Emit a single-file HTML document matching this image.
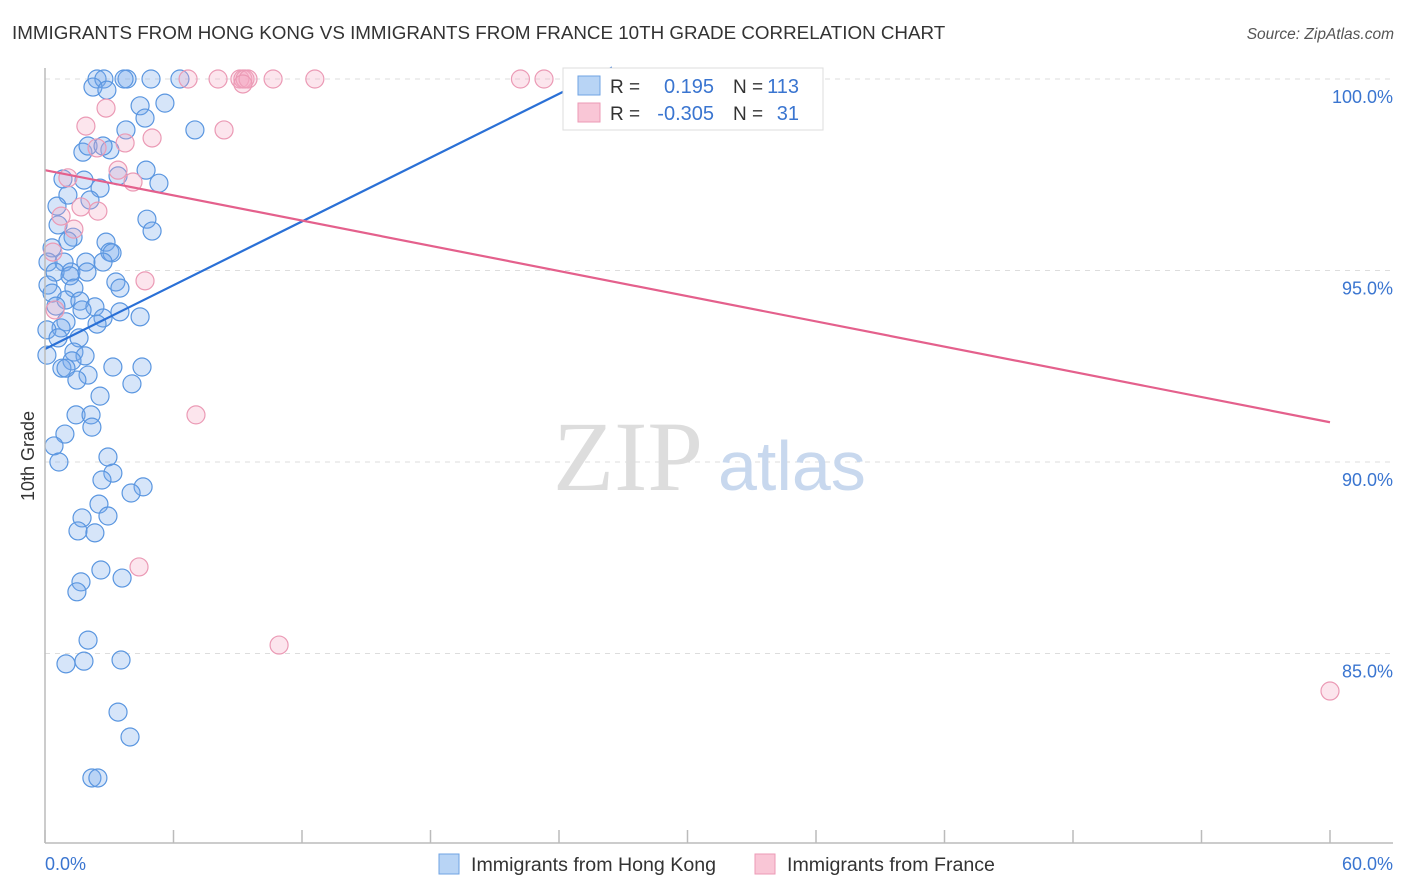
<!DOCTYPE html>
<html><head><meta charset="utf-8">
<style>
body{margin:0;background:#fff;font-family:"Liberation Sans",sans-serif;}
#wrap{position:relative;width:1406px;height:892px;overflow:hidden;}
</style></head>
<body>
<div id="wrap">
<svg id="chart" width="1406" height="892" xmlns="http://www.w3.org/2000/svg">
<text x="12" y="39" font-size="18.8" fill="#333">IMMIGRANTS FROM HONG KONG VS IMMIGRANTS FROM FRANCE 10TH GRADE CORRELATION CHART</text>
<text x="1394" y="39" font-size="15.5" fill="#555" font-style="italic" text-anchor="end">Source: ZipAtlas.com</text>
<text x="34" y="456" font-size="18" fill="#333" text-anchor="middle" transform="rotate(-90 34 456)">10th Grade</text>
<g id="grid"></g>
<text x="553" y="490" font-size="100" fill="#ddd" font-family="Liberation Serif,serif">ZIP</text>
<text x="718" y="490" font-size="70" fill="#c8d8ee">atlas</text>
<g id="pts"></g>
<g id="lines"></g>
<g id="axes"></g>
<g>
<rect x="563" y="68" width="260" height="62" fill="#fff" stroke="#ddd"/>
<rect x="578" y="76" width="22" height="19" fill="#b8d4f5" stroke="#6fa3e3"/>
<rect x="578" y="103" width="22" height="19" fill="#f9c6d6" stroke="#ec9ab6"/>
<text x="610" y="93" font-size="19" fill="#333">R =</text>
<text x="714" y="93" font-size="20" fill="#3a75d0" text-anchor="end">0.195</text>
<text x="733" y="93" font-size="19" fill="#333">N =</text>
<text x="799" y="93" font-size="20" fill="#3a75d0" text-anchor="end">113</text>
<text x="610" y="120" font-size="19" fill="#333">R =</text>
<text x="714" y="120" font-size="20" fill="#3a75d0" text-anchor="end">-0.305</text>
<text x="733" y="120" font-size="19" fill="#333">N =</text>
<text x="799" y="120" font-size="20" fill="#3a75d0" text-anchor="end">31</text>
</g>
<g>
<rect x="439" y="854" width="20" height="20" fill="#b8d4f5" stroke="#6fa3e3"/>
<text x="471" y="871" font-size="19.6" fill="#333">Immigrants from Hong Kong</text>
<rect x="755" y="854" width="20" height="20" fill="#f9c6d6" stroke="#ec9ab6"/>
<text x="787" y="871" font-size="19.6" fill="#333">Immigrants from France</text>
</g>
</svg>
</div>
<script>
const blueX=[2.43,2.75,3.83,4.95,6.30,3.69,2.24,2.89,4.44,5.60,4.67,3.78,7.0,1.77,3.03,2.01,2.71,4.72,3.41,5.32,0.84,1.82,2.57,1.07,2.10,0.56,4.76,5.0,0.61,1.31,1.07,2.85,0.33,3.03,3.13,0.14,0.89,1.91,2.71,1.21,0.47,1.17,1.96,3.31,0.14,3.50,1.35,0.33,0.98,1.63,0.51,2.33,3.50,4.44,1.73,0.98,2.71,2.43,0.75,0.09,0.61,1.59,0.09,1.35,1.87,1.26,0.79,0.98,2.01,1.49,3.17,4.53,4.06,2.57,1.45,2.15,2.19,0.93,0.42,0.65,2.94,3.17,2.66,4.58,4.02,2.52,2.94,1.73,1.54,2.33,2.61,1.68,3.60,1.49,2.01,0.98,1.82,3.55,3.41,3.97,2.19,2.47];
const blueY=[100,100,100,100,100,100,99.79,99.71,99.30,99.37,98.98,98.67,98.67,98.09,98.15,98.25,98.25,97.62,97.47,97.28,97.39,97.36,97.15,96.97,96.84,96.68,96.34,96.03,96.19,95.87,95.77,95.74,95.59,95.48,95.46,95.22,95.22,95.22,95.22,94.96,94.96,94.86,94.96,94.70,94.62,94.54,94.54,94.41,94.23,94.20,94.07,94.05,93.92,93.79,93.97,93.66,93.76,93.60,93.50,93.45,93.24,93.24,92.79,92.87,92.77,92.64,92.45,92.45,92.27,92.14,92.48,92.48,92.04,91.72,91.23,91.23,90.91,90.73,90.42,90.0,90.13,89.71,89.53,89.35,89.19,88.90,88.59,88.54,88.20,88.15,87.18,86.87,86.97,86.61,85.35,84.73,84.80,84.83,83.47,82.82,81.75,81.75];
const pinkX=[6.68,8.08,9.1,9.24,9.34,9.48,10.65,12.6,22.2,23.3,31.1,9.24,2.85,1.91,8.36,5.0,2.43,3.74,3.41,4.11,1.07,2.47,1.68,0.75,1.35,0.37,4.67,7.05,4.39,10.93,60,0.47];
const pinkY=[100,100,100,100,100,100,100,100,100,100,100,99.87,99.24,98.77,98.67,98.46,98.20,98.33,97.62,97.31,97.42,96.55,96.66,96.42,96.08,95.48,94.73,91.23,87.26,85.22,84.02,93.97];
const regIntercept=[92.95,97.62];
const regSlope=[0.2776,-0.1097];
const yTicks=[100,95,90,85];
const xTickLabels=["0.0%","60.0%"];

const NS="http://www.w3.org/2000/svg";
const X0=45,X1=1330,Y100=79,PPY=38.3;
const sx=v=>X0+(v/60)*(X1-X0);
const sy=v=>Y100+(100-v)*PPY;
function mk(tag,attrs,parent){const e=document.createElementNS(NS,tag);for(const k in attrs)e.setAttribute(k,attrs[k]);parent.appendChild(e);return e;}

const grid=document.getElementById('grid');
yTicks.forEach(t=>{
  const l=mk('line',{x1:X0,x2:1393,y1:sy(t),y2:sy(t),stroke:'#ddd','stroke-dasharray':'5,5'},grid);
  
  
  const tx=mk('text',{x:1393,y:sy(t)+24,'font-size':18,fill:'#3a75d0','text-anchor':'end'},grid);
  tx.textContent=t.toFixed(1)+'%';
  
  
});

const pts=document.getElementById('pts');
blueX.forEach((x,i)=>{
  const c=mk('circle',{cx:sx(x),cy:sy(blueY[i]),r:9,fill:'rgba(120,170,235,0.3)',stroke:'#5a96e0','stroke-width':1.2},pts);
  
  
});
pinkX.forEach((x,i)=>{
  const c=mk('circle',{cx:sx(x),cy:sy(pinkY[i]),r:9,fill:'rgba(245,170,195,0.3)',stroke:'#eb9ab5','stroke-width':1.2},pts);
  
  
});

const lines=document.getElementById('lines');
const bxEnd=(100.3-regIntercept[0])/regSlope[0];
const bl=mk('line',{x1:sx(0),y1:sy(regIntercept[0]),x2:sx(bxEnd),y2:sy(regIntercept[0]+regSlope[0]*bxEnd),stroke:'#2a70d6','stroke-width':2.2},lines);


const pl=mk('line',{x1:sx(0),y1:sy(regIntercept[1]),x2:sx(60),y2:sy(regIntercept[1]+regSlope[1]*60),stroke:'#e4608c','stroke-width':2.2},lines);



const axes=document.getElementById('axes');
const ya=mk('line',{x1:X0,x2:X0,y1:68,y2:843,stroke:'#bbb','stroke-width':1.5},axes);


const xa=mk('line',{x1:X0,x2:1393,y1:843,y2:843,stroke:'#bbb','stroke-width':1.5},axes);


for(let i=0;i<=10;i++){
  const t=mk('line',{x1:sx(i*6),x2:sx(i*6),y1:830,y2:843,stroke:'#bbb','stroke-width':1.5},axes);
  
  
}
const xl0=mk('text',{x:45,y:870,'font-size':18,fill:'#3a75d0'},axes);
xl0.textContent=xTickLabels[0];


const xl1=mk('text',{x:1393,y:870,'font-size':18,fill:'#3a75d0','text-anchor':'end'},axes);
xl1.textContent=xTickLabels[1];


</script>
</body></html>
